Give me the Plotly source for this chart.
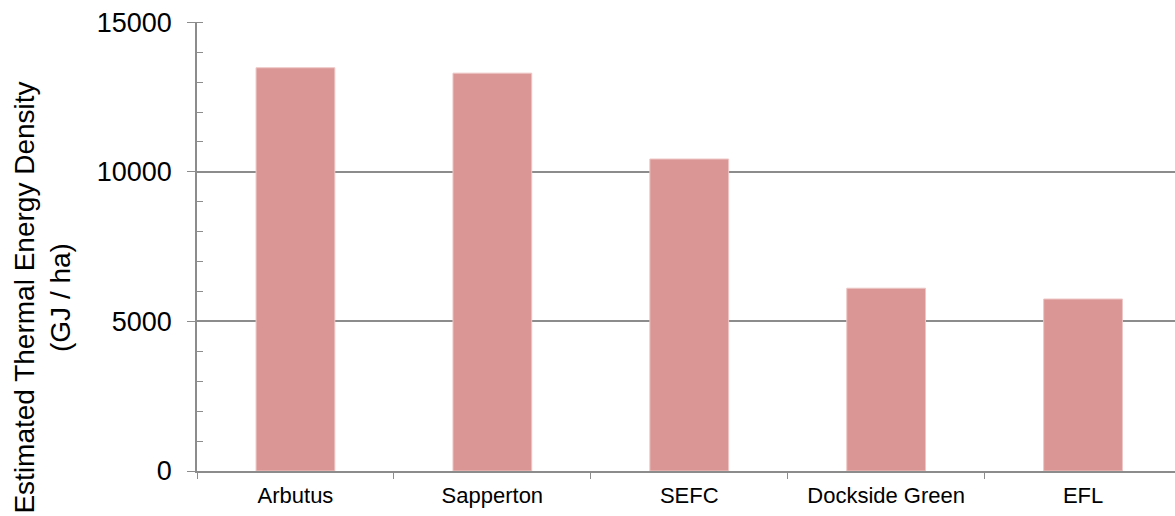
import plotly.graph_objects as go

categories = ["Arbutus", "Sapperton", "SEFC", "Dockside Green", "EFL"]
density = [13480, 13300, 10430, 6110, 5750]
y_ticks = [0, 5000, 10000, 15000]
y_tick_labels = ["0", "5000", "10000", "15000"]

W, H = 1175, 516
L, T = 196.5, 22
plot_h = 449
B = H - T - plot_h
R = 0
plot_w = W - L - R

fig = go.Figure(
    go.Bar(
        x=categories,
        y=density,
        width=0.4,
        marker=dict(color="#D99694", line=dict(color="#EDC6C5", width=1)),
    )
)

FONT = "Liberation Sans, Arial, sans-serif"
GRID = "#8C8C8C"

fig.update_layout(
    width=W,
    height=H,
    margin=dict(l=L, r=R, t=T, b=B, pad=0),
    paper_bgcolor="white",
    plot_bgcolor="white",
    showlegend=False,
    font=dict(family=FONT, color="black"),
    xaxis=dict(
        range=[-0.5, -0.5 + plot_w / 197.0],
        tickson="boundaries",
        ticks="outside",
        ticklen=6,
        tickwidth=1.3,
        tickcolor=GRID,
        showline=True,
        linecolor=GRID,
        linewidth=1.5,
        showgrid=False,
        ticklabelstandoff=4,
        ticklabeloverflow="allow",
        tickfont=dict(size=22, family=FONT, color="black"),
        fixedrange=True,
    ),
    yaxis=dict(
        range=[0, 15010],
        tickvals=y_ticks,
        ticktext=y_tick_labels,
        ticks="outside",
        ticklen=8,
        tickwidth=1.3,
        tickcolor=GRID,
        showline=True,
        linecolor=GRID,
        linewidth=1.5,
        showgrid=True,
        gridcolor=GRID,
        gridwidth=1.5,
        zeroline=False,
        ticklabelstandoff=10,
        ticklabeloverflow="allow",
        tickfont=dict(size=27, family=FONT, color="black"),
        minor=dict(dtick=1000, ticks="inside", ticklen=6, tickwidth=1.3,
                   tickcolor=GRID, showgrid=False),
        fixedrange=True,
    ),
)

fig.add_annotation(
    text="Estimated Thermal Energy Density<br>(GJ / ha)",
    xref="paper",
    yref="paper",
    x=-(L - 41) / plot_w,
    y=(471 - 298) / plot_h,
    xanchor="center",
    yanchor="middle",
    textangle=-90,
    showarrow=False,
    font=dict(size=28, family=FONT, color="black"),
)

fig.write_html(
    "out.html",
    config={"displayModeBar": False},
    post_script="document.body.style.margin='0';document.body.style.overflow='hidden';",
)
